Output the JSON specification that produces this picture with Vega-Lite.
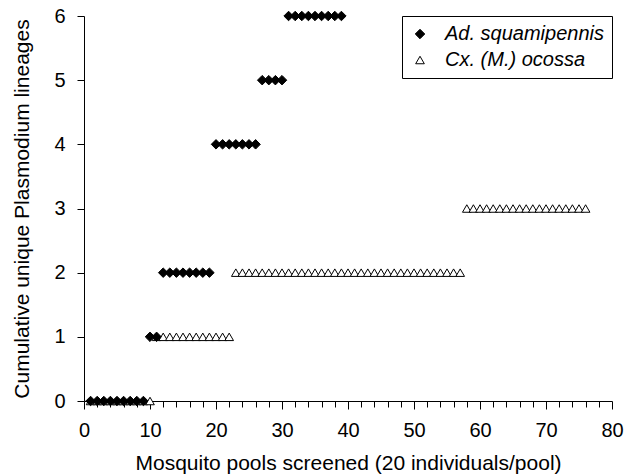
{
  "$schema": "https://vega.github.io/schema/vega-lite/v6.json",
  "width": 528,
  "height": 385,
  "padding": {"left": 84, "top": 16, "right": 21, "bottom": 75},
  "autosize": {"type": "none"},
  "background": "white",
  "config": {
    "view": {"stroke": null},
    "font": "Liberation Sans",
    "axis": {"domainColor": "black", "tickColor": "black", "labelColor": "black", "titleColor": "black", "labelFontSize": 20, "titleFontSize": 21, "titleFontWeight": "normal", "grid": false, "labelFont": "Liberation Sans", "titleFont": "Liberation Sans"}
  },
  "data": {"values": [
    {"pool": 1, "lineages": 0, "species": "Cx. (M.) ocossa"},
    {"pool": 2, "lineages": 0, "species": "Cx. (M.) ocossa"},
    {"pool": 3, "lineages": 0, "species": "Cx. (M.) ocossa"},
    {"pool": 4, "lineages": 0, "species": "Cx. (M.) ocossa"},
    {"pool": 5, "lineages": 0, "species": "Cx. (M.) ocossa"},
    {"pool": 6, "lineages": 0, "species": "Cx. (M.) ocossa"},
    {"pool": 7, "lineages": 0, "species": "Cx. (M.) ocossa"},
    {"pool": 8, "lineages": 0, "species": "Cx. (M.) ocossa"},
    {"pool": 9, "lineages": 0, "species": "Cx. (M.) ocossa"},
    {"pool": 10, "lineages": 0, "species": "Cx. (M.) ocossa"},
    {"pool": 11, "lineages": 1, "species": "Cx. (M.) ocossa"},
    {"pool": 12, "lineages": 1, "species": "Cx. (M.) ocossa"},
    {"pool": 13, "lineages": 1, "species": "Cx. (M.) ocossa"},
    {"pool": 14, "lineages": 1, "species": "Cx. (M.) ocossa"},
    {"pool": 15, "lineages": 1, "species": "Cx. (M.) ocossa"},
    {"pool": 16, "lineages": 1, "species": "Cx. (M.) ocossa"},
    {"pool": 17, "lineages": 1, "species": "Cx. (M.) ocossa"},
    {"pool": 18, "lineages": 1, "species": "Cx. (M.) ocossa"},
    {"pool": 19, "lineages": 1, "species": "Cx. (M.) ocossa"},
    {"pool": 20, "lineages": 1, "species": "Cx. (M.) ocossa"},
    {"pool": 21, "lineages": 1, "species": "Cx. (M.) ocossa"},
    {"pool": 22, "lineages": 1, "species": "Cx. (M.) ocossa"},
    {"pool": 23, "lineages": 2, "species": "Cx. (M.) ocossa"},
    {"pool": 24, "lineages": 2, "species": "Cx. (M.) ocossa"},
    {"pool": 25, "lineages": 2, "species": "Cx. (M.) ocossa"},
    {"pool": 26, "lineages": 2, "species": "Cx. (M.) ocossa"},
    {"pool": 27, "lineages": 2, "species": "Cx. (M.) ocossa"},
    {"pool": 28, "lineages": 2, "species": "Cx. (M.) ocossa"},
    {"pool": 29, "lineages": 2, "species": "Cx. (M.) ocossa"},
    {"pool": 30, "lineages": 2, "species": "Cx. (M.) ocossa"},
    {"pool": 31, "lineages": 2, "species": "Cx. (M.) ocossa"},
    {"pool": 32, "lineages": 2, "species": "Cx. (M.) ocossa"},
    {"pool": 33, "lineages": 2, "species": "Cx. (M.) ocossa"},
    {"pool": 34, "lineages": 2, "species": "Cx. (M.) ocossa"},
    {"pool": 35, "lineages": 2, "species": "Cx. (M.) ocossa"},
    {"pool": 36, "lineages": 2, "species": "Cx. (M.) ocossa"},
    {"pool": 37, "lineages": 2, "species": "Cx. (M.) ocossa"},
    {"pool": 38, "lineages": 2, "species": "Cx. (M.) ocossa"},
    {"pool": 39, "lineages": 2, "species": "Cx. (M.) ocossa"},
    {"pool": 40, "lineages": 2, "species": "Cx. (M.) ocossa"},
    {"pool": 41, "lineages": 2, "species": "Cx. (M.) ocossa"},
    {"pool": 42, "lineages": 2, "species": "Cx. (M.) ocossa"},
    {"pool": 43, "lineages": 2, "species": "Cx. (M.) ocossa"},
    {"pool": 44, "lineages": 2, "species": "Cx. (M.) ocossa"},
    {"pool": 45, "lineages": 2, "species": "Cx. (M.) ocossa"},
    {"pool": 46, "lineages": 2, "species": "Cx. (M.) ocossa"},
    {"pool": 47, "lineages": 2, "species": "Cx. (M.) ocossa"},
    {"pool": 48, "lineages": 2, "species": "Cx. (M.) ocossa"},
    {"pool": 49, "lineages": 2, "species": "Cx. (M.) ocossa"},
    {"pool": 50, "lineages": 2, "species": "Cx. (M.) ocossa"},
    {"pool": 51, "lineages": 2, "species": "Cx. (M.) ocossa"},
    {"pool": 52, "lineages": 2, "species": "Cx. (M.) ocossa"},
    {"pool": 53, "lineages": 2, "species": "Cx. (M.) ocossa"},
    {"pool": 54, "lineages": 2, "species": "Cx. (M.) ocossa"},
    {"pool": 55, "lineages": 2, "species": "Cx. (M.) ocossa"},
    {"pool": 56, "lineages": 2, "species": "Cx. (M.) ocossa"},
    {"pool": 57, "lineages": 2, "species": "Cx. (M.) ocossa"},
    {"pool": 58, "lineages": 3, "species": "Cx. (M.) ocossa"},
    {"pool": 59, "lineages": 3, "species": "Cx. (M.) ocossa"},
    {"pool": 60, "lineages": 3, "species": "Cx. (M.) ocossa"},
    {"pool": 61, "lineages": 3, "species": "Cx. (M.) ocossa"},
    {"pool": 62, "lineages": 3, "species": "Cx. (M.) ocossa"},
    {"pool": 63, "lineages": 3, "species": "Cx. (M.) ocossa"},
    {"pool": 64, "lineages": 3, "species": "Cx. (M.) ocossa"},
    {"pool": 65, "lineages": 3, "species": "Cx. (M.) ocossa"},
    {"pool": 66, "lineages": 3, "species": "Cx. (M.) ocossa"},
    {"pool": 67, "lineages": 3, "species": "Cx. (M.) ocossa"},
    {"pool": 68, "lineages": 3, "species": "Cx. (M.) ocossa"},
    {"pool": 69, "lineages": 3, "species": "Cx. (M.) ocossa"},
    {"pool": 70, "lineages": 3, "species": "Cx. (M.) ocossa"},
    {"pool": 71, "lineages": 3, "species": "Cx. (M.) ocossa"},
    {"pool": 72, "lineages": 3, "species": "Cx. (M.) ocossa"},
    {"pool": 73, "lineages": 3, "species": "Cx. (M.) ocossa"},
    {"pool": 74, "lineages": 3, "species": "Cx. (M.) ocossa"},
    {"pool": 75, "lineages": 3, "species": "Cx. (M.) ocossa"},
    {"pool": 76, "lineages": 3, "species": "Cx. (M.) ocossa"},
    {"pool": 1, "lineages": 0, "species": "Ad. squamipennis"},
    {"pool": 2, "lineages": 0, "species": "Ad. squamipennis"},
    {"pool": 3, "lineages": 0, "species": "Ad. squamipennis"},
    {"pool": 4, "lineages": 0, "species": "Ad. squamipennis"},
    {"pool": 5, "lineages": 0, "species": "Ad. squamipennis"},
    {"pool": 6, "lineages": 0, "species": "Ad. squamipennis"},
    {"pool": 7, "lineages": 0, "species": "Ad. squamipennis"},
    {"pool": 8, "lineages": 0, "species": "Ad. squamipennis"},
    {"pool": 9, "lineages": 0, "species": "Ad. squamipennis"},
    {"pool": 10, "lineages": 1, "species": "Ad. squamipennis"},
    {"pool": 11, "lineages": 1, "species": "Ad. squamipennis"},
    {"pool": 12, "lineages": 2, "species": "Ad. squamipennis"},
    {"pool": 13, "lineages": 2, "species": "Ad. squamipennis"},
    {"pool": 14, "lineages": 2, "species": "Ad. squamipennis"},
    {"pool": 15, "lineages": 2, "species": "Ad. squamipennis"},
    {"pool": 16, "lineages": 2, "species": "Ad. squamipennis"},
    {"pool": 17, "lineages": 2, "species": "Ad. squamipennis"},
    {"pool": 18, "lineages": 2, "species": "Ad. squamipennis"},
    {"pool": 19, "lineages": 2, "species": "Ad. squamipennis"},
    {"pool": 20, "lineages": 4, "species": "Ad. squamipennis"},
    {"pool": 21, "lineages": 4, "species": "Ad. squamipennis"},
    {"pool": 22, "lineages": 4, "species": "Ad. squamipennis"},
    {"pool": 23, "lineages": 4, "species": "Ad. squamipennis"},
    {"pool": 24, "lineages": 4, "species": "Ad. squamipennis"},
    {"pool": 25, "lineages": 4, "species": "Ad. squamipennis"},
    {"pool": 26, "lineages": 4, "species": "Ad. squamipennis"},
    {"pool": 27, "lineages": 5, "species": "Ad. squamipennis"},
    {"pool": 28, "lineages": 5, "species": "Ad. squamipennis"},
    {"pool": 29, "lineages": 5, "species": "Ad. squamipennis"},
    {"pool": 30, "lineages": 5, "species": "Ad. squamipennis"},
    {"pool": 31, "lineages": 6, "species": "Ad. squamipennis"},
    {"pool": 32, "lineages": 6, "species": "Ad. squamipennis"},
    {"pool": 33, "lineages": 6, "species": "Ad. squamipennis"},
    {"pool": 34, "lineages": 6, "species": "Ad. squamipennis"},
    {"pool": 35, "lineages": 6, "species": "Ad. squamipennis"},
    {"pool": 36, "lineages": 6, "species": "Ad. squamipennis"},
    {"pool": 37, "lineages": 6, "species": "Ad. squamipennis"},
    {"pool": 38, "lineages": 6, "species": "Ad. squamipennis"},
    {"pool": 39, "lineages": 6, "species": "Ad. squamipennis"}
  ]},
  "mark": {"type": "point", "filled": true, "stroke": "black", "strokeWidth": 1, "opacity": 1, "clip": false},
  "encoding": {
    "x": {
      "field": "pool", "type": "quantitative",
      "scale": {"domain": [0, 80], "nice": false, "zero": false},
      "axis": {
        "title": "Mosquito pools screened (20 individuals/pool)",
        "values": [0,2,4,6,8,10,12,14,16,18,20,22,24,26,28,30,32,34,36,38,40,42,44,46,48,50,52,54,56,58,60,62,64,66,68,70,72,74,76,78,80],
        "labelExpr": "datum.value % 10 === 0 ? datum.label : ''",
        "tickSize": {"condition": {"test": "datum.value % 10 === 0", "value": 8}, "value": 6},
        "labelPadding": 11,
        "titlePadding": 12,
        "labelFlush": false,
        "labelOverlap": false
      }
    },
    "y": {
      "field": "lineages", "type": "quantitative",
      "scale": {"domain": [0, 6], "nice": false},
      "axis": {
        "title": "Cumulative unique Plasmodium lineages",
        "values": [0,1,2,3,4,5,6],
        "tickSize": 7,
        "labelPadding": 12,
        "titlePadding": 21
      }
    },
    "size": {
      "field": "species", "type": "nominal",
      "scale": {"domain": ["Ad. squamipennis", "Cx. (M.) ocossa"], "range": [90, 75]},
      "legend": null
    },
    "shape": {
      "field": "species", "type": "nominal",
      "scale": {"domain": ["Ad. squamipennis", "Cx. (M.) ocossa"], "range": ["diamond", "triangle-up"]},
      "legend": {"title": null, "orient": "top-right", "offset": 0, "strokeColor": "black", "padding": 8, "labelFontSize": 20, "labelFontStyle": "italic", "labelFont": "Liberation Sans", "labelColor": "black", "labelLimit": 400, "symbolSize": 64, "symbolStrokeColor": "black", "symbolStrokeWidth": 1, "rowPadding": 6, "labelOffset": 15, "fillColor": "white"}
    },
    "color": {
      "field": "species", "type": "nominal",
      "scale": {"domain": ["Ad. squamipennis", "Cx. (M.) ocossa"], "range": ["black", "white"]},
      "legend": {"title": null, "orient": "top-right", "offset": 0, "strokeColor": "black", "padding": 8, "labelFontSize": 20, "labelFontStyle": "italic", "labelFont": "Liberation Sans", "labelColor": "black", "labelLimit": 400, "symbolSize": 64, "symbolStrokeColor": "black", "symbolStrokeWidth": 1, "rowPadding": 6, "labelOffset": 15, "fillColor": "white"}
    }
  }
}
